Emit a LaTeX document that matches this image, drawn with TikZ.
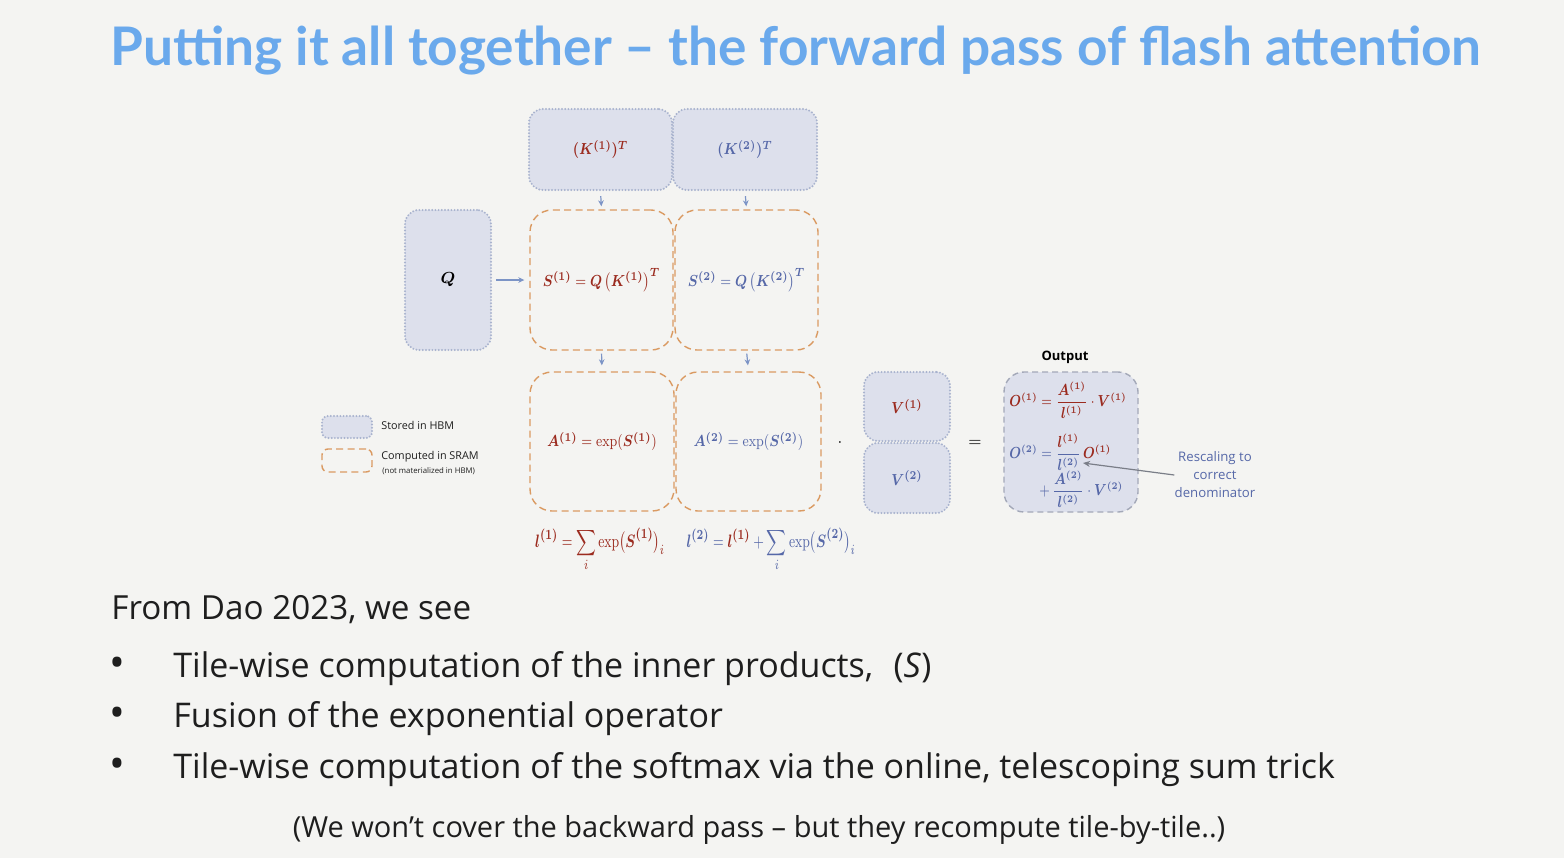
\documentclass[tikz,border=0pt]{standalone}
\usepackage[no-math]{fontspec}
\setmainfont{Open Sans}
\setsansfont{Open Sans}
\newfontfamily\titlefont{Lato}
\usepackage{amsmath}
\usepackage{bm}
\usetikzlibrary{arrows.meta}
\definecolor{bg}{HTML}{F4F4F2}
\definecolor{ttl}{HTML}{6AA9EC}
\definecolor{dred}{HTML}{9B2B1F}
\definecolor{mblue}{HTML}{5668A8}
\definecolor{hbmfill}{HTML}{DDE0EC}
\definecolor{hbmline}{HTML}{A9B3CE}
\definecolor{sram}{HTML}{DA9A62}
\definecolor{arr}{HTML}{7C94C6}
\definecolor{outline}{HTML}{A3A8B8}
\definecolor{gtext}{HTML}{1E1E1E}
\definecolor{garrow}{HTML}{7A7E88}
\newcommand{\hsq}[1]{\scalebox{0.82}[1]{#1}}
\newcommand{\hsqo}[1]{\scalebox{0.8}[1]{#1}}
\newcommand{\hsql}[1]{\scalebox{0.74}[1]{#1}}
\begin{document}
\begin{tikzpicture}[x=0.5pt,y=-0.5pt,
  hbm/.style={draw=hbmline, fill=hbmfill, line width=1.1pt, dash pattern=on 0pt off 1.6pt, line cap=round, rounded corners=7pt, inner sep=0pt},
  sram/.style={draw=sram, line width=0.7pt, dash pattern=on 3.5pt off 2.2pt, rounded corners=11pt, inner sep=0pt},
  outbox/.style={draw=outline, fill=hbmfill, line width=0.7pt, dash pattern=on 3pt off 2pt, rounded corners=10pt, inner sep=0pt},
  flow/.style={draw=arr, line width=0.6pt, -{Stealth[length=3pt,width=2.8pt]}},
  mth/.style={font=\fontsize{8.5}{10}\selectfont},
  lmth/.style={font=\fontsize{9.5}{11}\selectfont},
  smth/.style={font=\fontsize{7.6}{8.5}\selectfont, inner sep=0pt},
  legend/.style={font=\fontsize{5.4}{6.5}\selectfont, text=gtext, anchor=west, inner sep=0pt},
  body/.style={font=\fontsize{17}{20}\selectfont, text=gtext, anchor=base west, inner sep=0pt},
  bullet/.style={font=\fontsize{21}{22}\selectfont, text=gtext, anchor=base, inner sep=0pt},
]
\fill[bg] (0,0) rectangle (1564,858);
\useasboundingbox (0,0) rectangle (1564,858);

% title
\node[anchor=base west, inner sep=0pt, text=ttl, font=\fontsize{26.6}{30}\selectfont\titlefont\bfseries] (title) at (110,65)
  {Putting it all together – the forward pass of flash attention};

% K tiles
\node[hbm, minimum width=71.5pt, minimum height=40.5pt, text=dred, mth] (K1) at (600.5,149.5) {\hsq{$\bm{(K^{(1)})^T}$}};
\node[hbm, minimum width=72pt, minimum height=40.5pt, text=mblue, mth] (K2) at (745,149.5) {\hsq{$\bm{(K^{(2)})^T}$}};
% Q
\node[hbm, minimum width=43pt, minimum height=70pt, text=black, mth] (Q) at (448,280) {$\bm{Q}$};
% S tiles
\node[sram, minimum width=71.5pt, minimum height=70pt, text=dred, mth] (S1) at (601.5,280)
  {\hsq{$\bm{S^{(1)}} = \bm{Q}\left(\bm{K^{(1)}}\right)^{\bm{T}}$}};
\node[sram, minimum width=71.5pt, minimum height=70pt, text=mblue, mth] (S2) at (746.5,280)
  {\hsq{$\bm{S^{(2)}} = \bm{Q}\left(\bm{K^{(2)}}\right)^{\bm{T}}$}};
% A tiles
\node[sram, minimum width=72pt, minimum height=69.5pt, text=dred, mth] (A1) at (602,441.5)
  {\hsq{$\bm{A^{(1)}} = \exp(\bm{S^{(1)}})$}};
\node[sram, minimum width=72.5pt, minimum height=69.5pt, text=mblue, mth] (A2) at (748.5,441.5)
  {\hsq{$\bm{A^{(2)}} = \exp(\bm{S^{(2)}})$}};
% V tiles
\node[hbm, minimum width=43pt, minimum height=34.5pt, text=dred, mth] (V1) at (907,406.5) {\hsq{$\bm{V^{(1)}}$}};
\node[hbm, minimum width=43pt, minimum height=35pt, text=mblue, mth] (V2) at (907,478) {\hsq{$\bm{V^{(2)}}$}};

\node[mth] (dot) at (840,443) {$\cdot$};
\node[mth] (eq) at (975,443) {$=$};

% output
\node[font=\fontsize{6.5}{8}\selectfont\bfseries, text=black, inner sep=0pt] (outlbl) at (1065,357) {Output};
\node[outbox, minimum width=67pt, minimum height=70pt] (out) at (1071,442) {};
\node[smth, anchor=west, text=dred] (o1) at (1009,400)
  {\hsqo{$\bm{O^{(1)}} = \dfrac{\bm{A^{(1)}}}{\bm{l^{(1)}}}\cdot \bm{V^{(1)}}$}};
\node[smth, anchor=west] (o2) at (1009,452)
  {\hsqo{$\color{mblue}\bm{O^{(2)}} = \dfrac{\color{dred}\bm{l^{(1)}}}{\color{mblue}\bm{l^{(2)}}}\,\color{dred}\bm{O^{(1)}}$}};
\node[smth, anchor=west, text=mblue] (o3) at (1039,489)
  {\hsqo{$+\,\dfrac{\bm{A^{(2)}}}{\bm{l^{(2)}}}\cdot \bm{V^{(2)}}$}};
\coordinate (rtip) at (1083,463);
\node[align=center, text=mblue, font=\fontsize{6.6}{9}\selectfont, inner sep=0pt] (resc) at (1215,475)
  {Rescaling to\\correct\\denominator};
\draw[draw=garrow, line width=0.6pt, -{Stealth[length=3.5pt,width=3pt]}] (resc.west) -- (rtip);

% l formulas
\node[lmth, text=dred] (l1) at (600,550)
  {\hsql{$\bm{l^{(1)}} = \displaystyle\sum_{i}\exp\bigl(\bm{S^{(1)}}\bigr)_i$}};
\node[lmth, text=mblue] (l2) at (771,550)
  {\hsql{$\color{mblue}\bm{l^{(2)}} = \color{dred}\bm{l^{(1)}}\color{mblue} + \displaystyle\sum_{i}\exp\bigl(\bm{S^{(2)}}\bigr)_i$}};

% arrows
\draw[flow, shorten <=2.5pt, shorten >=1.5pt] (K1.south) -- (S1.north);
\draw[flow, shorten <=2.5pt, shorten >=1.5pt] (K2.south) -- (S2.north);
\draw[flow, shorten <=2pt, shorten >=2.5pt] (Q.east) -- (S1.west);
\draw[flow, shorten <=1.5pt, shorten >=3pt] (S1.south) -- (A1.north);
\draw[flow, shorten <=1.5pt, shorten >=3pt] (S2.south) -- (A2.north);

% legend
\node[hbm, rounded corners=3pt, minimum width=25pt, minimum height=11pt] (lg1) at (347,427) {};
\node[sram, rounded corners=3pt, minimum width=25pt, minimum height=11.5pt] (lg2) at (347,460.5) {};
\node[legend] (lt1) at (381,425) {Stored in HBM};
\node[legend] (lt2) at (381,457) {Computed in SRAM};
\node[legend, font=\fontsize{3.9}{4.5}\selectfont] (lt3) at (382,471) {(not materialized in HBM)};

% body text
\node[body, font=\fontsize{16.6}{20}\selectfont] (from) at (111,619) {From Dao 2023, we see};
\node[bullet] (b1) at (117,677) {•};
\node[bullet] (b2) at (117,727) {•};
\node[bullet] (b3) at (117,778) {•};
\node[body] (t1) at (173,677) {Tile-wise computation of the inner products,\hspace{0.6em}(\textit{S})};
\node[body] (t2) at (173,727) {Fusion of the exponential operator};
\node[body] (t3) at (173,778) {Tile-wise computation of the softmax via the online, telescoping sum trick};
\node[font=\fontsize{14.5}{16}\selectfont, text=gtext, anchor=base, inner sep=0pt] (note) at (759,837)
  {(We won’t cover the backward pass – but they recompute tile-by-tile..)};
\end{tikzpicture}
\end{document}
